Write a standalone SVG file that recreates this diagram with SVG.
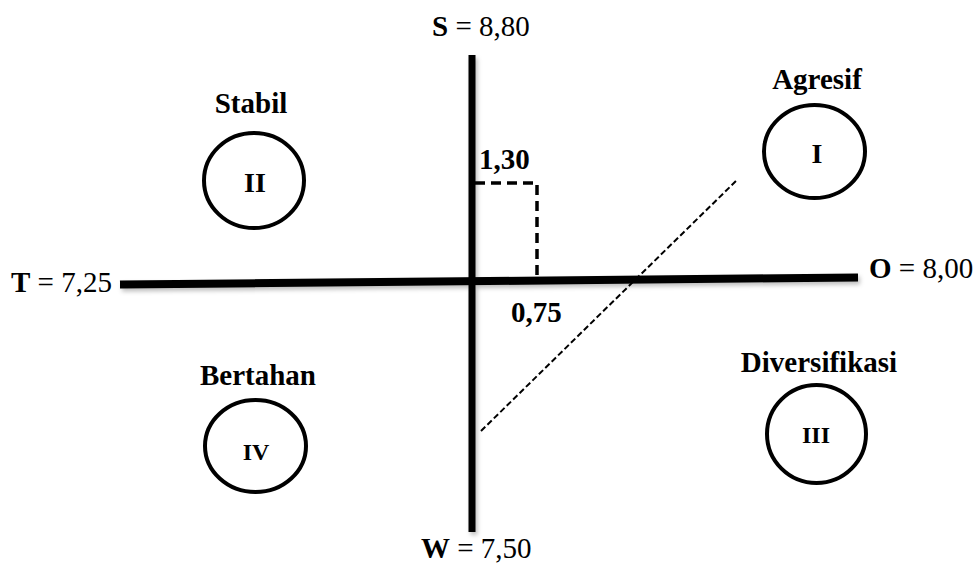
<svg xmlns="http://www.w3.org/2000/svg" width="980" height="563" viewBox="0 0 980 563" font-family="'Liberation Serif', 'Times New Roman', 'DejaVu Serif', serif">
<defs>
<style>
text{font-family:'Liberation Serif','Times New Roman','DejaVu Serif',serif;fill:#000}
.lbl{font-size:29px;font-weight:bold;text-anchor:middle}
.rn{font-weight:bold;text-anchor:middle}
.ax{font-size:29px}
.b{font-weight:bold}
.circ{fill:none;stroke:#000;stroke-width:4}
</style>
<filter id="sh" x="-5%" y="-5%" width="110%" height="110%">
<feDropShadow dx="2" dy="3" stdDeviation="2" flood-color="#000" flood-opacity="0.25"/>
</filter>
</defs>
<rect width="980" height="563" fill="#fff"/>
<g id="axes" filter="url(#sh)">
<line x1="472" y1="55" x2="472" y2="532" stroke="#000" stroke-width="7"/>
<line x1="120" y1="284.5" x2="858" y2="277.5" stroke="#000" stroke-width="8"/>
</g>
<g id="connectors">
<polyline points="475,183 537,183 537,276" fill="none" stroke="#000" stroke-width="3.5" stroke-dasharray="10,6"/>
<line x1="481" y1="431" x2="736" y2="181" stroke="#000" stroke-width="2" stroke-dasharray="6,3"/>
</g>
<g id="axis-labels">
<text class="ax" x="432" y="36"><tspan class="b">S</tspan> = 8,80</text>
<text class="ax" x="11" y="292"><tspan class="b">T</tspan> = 7,25</text>
<text class="ax" x="869" y="278"><tspan class="b">O</tspan> = 8,00</text>
<text class="ax" x="421" y="558"><tspan class="b">W</tspan> = 7,50</text>
<text class="ax b" x="479" y="169">1,30</text>
<text class="ax b" x="511" y="322">0,75</text>
</g>
<g id="node-II">
<text class="lbl" x="251" y="113">Stabil</text>
<ellipse class="circ" cx="254" cy="180.5" rx="50" ry="47.5"/>
<text class="rn" x="255" y="192" font-size="28">II</text>
</g>
<g id="node-I">
<text class="lbl" x="817" y="89">Agresif</text>
<ellipse class="circ" cx="814.5" cy="151.5" rx="50.5" ry="46.5"/>
<text class="rn" x="817" y="163" font-size="28">I</text>
</g>
<g id="node-IV">
<text class="lbl" x="258" y="385">Bertahan</text>
<ellipse class="circ" cx="255.5" cy="446" rx="50.5" ry="46"/>
<text class="rn" x="256" y="460" font-size="24">IV</text>
</g>
<g id="node-III">
<text class="lbl" x="819" y="372">Diversifikasi</text>
<ellipse class="circ" cx="816.5" cy="434" rx="49.5" ry="49"/>
<text class="rn" x="816" y="443" font-size="24">III</text>
</g>
</svg>
